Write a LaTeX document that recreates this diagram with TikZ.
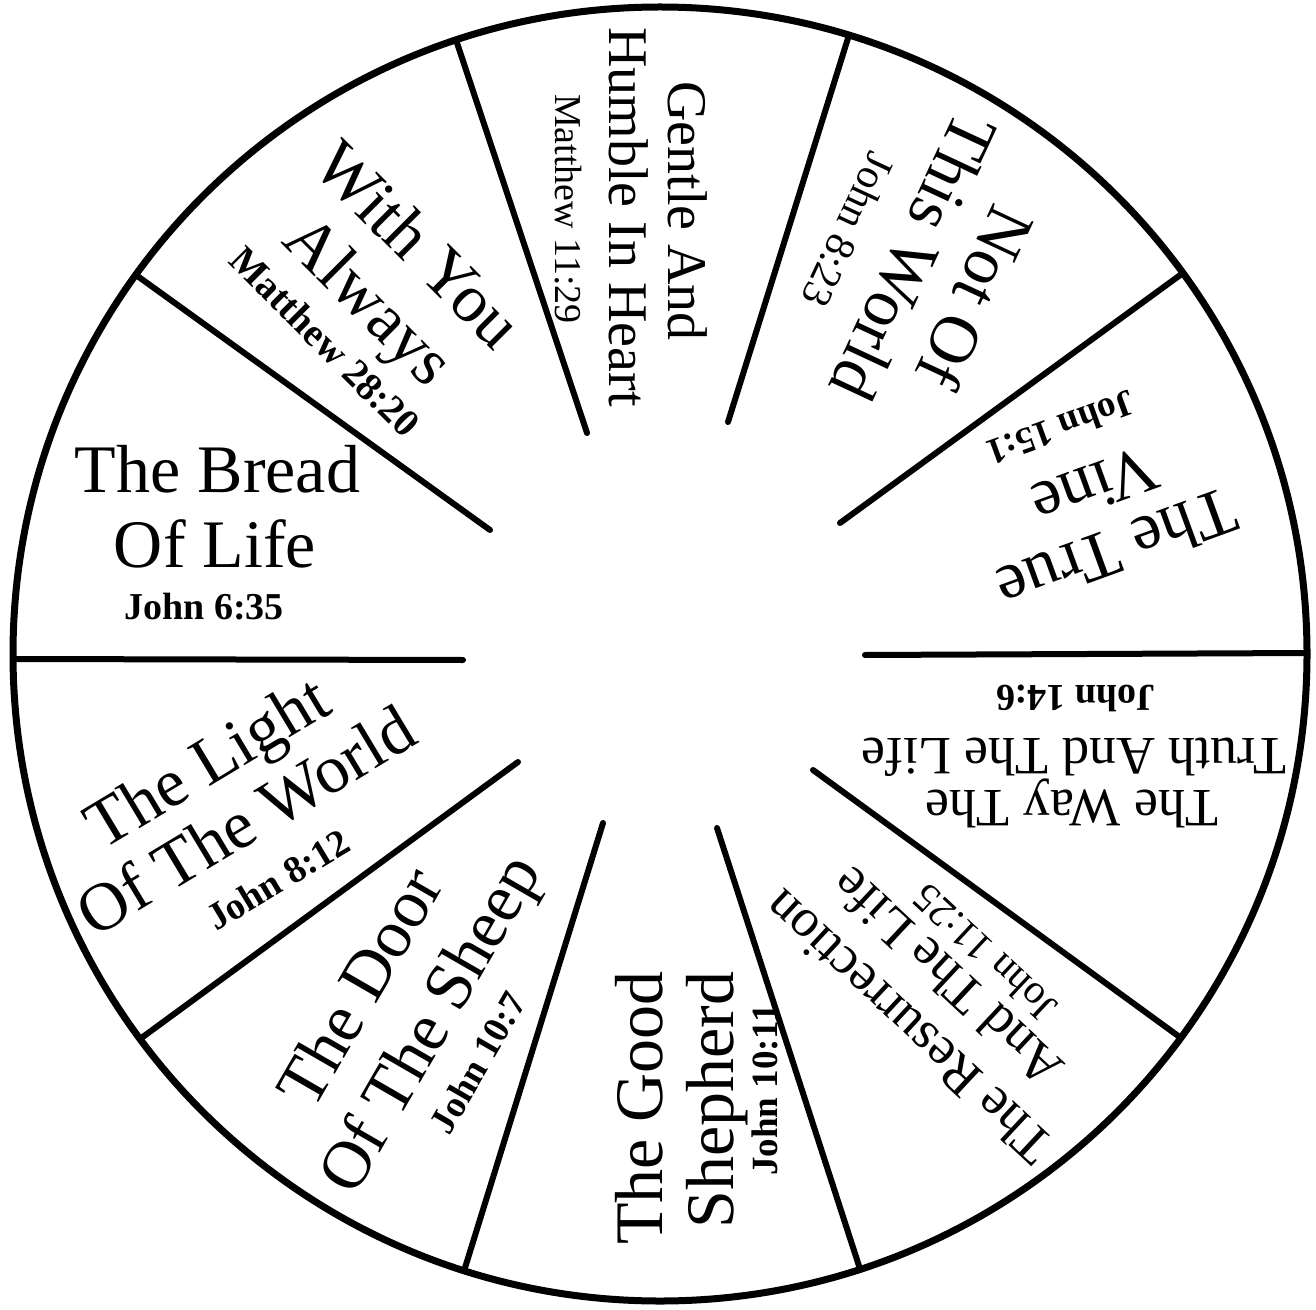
\documentclass[tikz,border=0pt]{standalone}
\usepackage{fontspec}
\setmainfont{Liberation Serif}
\newcommand\cs{\rule[-0.29em]{0pt}{1.24em}}
\tikzset{
  lbl/.style={inner sep=0pt, anchor=center},
  ttl/.style={lbl, font=\fontsize{#1}{#1}\selectfont},
  refb/.style={lbl, font=\fontsize{#1}{#1}\selectfont\bfseries},
  refr/.style={lbl, font=\fontsize{#1}{#1}\selectfont},
  rim/.style={line width=3.5pt},
  spoke/.style={line width=3pt, line cap=round},
}
\begin{document}
\begin{tikzpicture}[x=0.5pt,y=0.5pt]
\path[use as bounding box, fill=white] (0,0) rectangle (1316,-1310);
\coordinate (c) at (660,-654);
\draw[rim] (c) circle[radius=323.5pt];
% spokes
\coordinate (i1) at (463,-660);  \coordinate (o1) at (13,-659);
\coordinate (i2) at (490,-530);  \coordinate (o2) at (136,-275);
\coordinate (i3) at (587,-433);  \coordinate (o3) at (456,-40);
\coordinate (i4) at (728,-422);  \coordinate (o4) at (849,-35);
\coordinate (i5) at (840,-523);  \coordinate (o5) at (1183,-273);
\coordinate (i6) at (865,-655);  \coordinate (o6) at (1307,-653);
\coordinate (i7) at (813,-770);  \coordinate (o7) at (1181,-1038);
\coordinate (i8) at (717,-828);  \coordinate (o8) at (860,-1269);
\coordinate (i9) at (603,-823);  \coordinate (o9) at (464,-1271);
\coordinate (i10) at (518,-762); \coordinate (o10) at (140,-1039);
\foreach \k in {1,...,10} \draw[spoke] (i\k) -- (o\k);
% The Bread Of Life
\node[ttl=34] (b1) at (217.5,-470.5) {\cs The Bread};
\node[ttl=34] (b2) at (215,-545) {\cs Of Life};
\node[refb=19] (b3) at (204,-607) {\cs John 6:35};
% With You Always
\node[ttl=34, rotate=-45] (w1) at (418,-245) {\cs With You};
\node[ttl=34, rotate=-45] (w2) at (370,-300) {\cs Always};
\node[refb=19.5, rotate=-45] (w3) at (325,-342) {\cs Matthew 28:20};
% Gentle And Humble In Heart
\node[ttl=28, rotate=-90] (g1) at (687,-211) {\cs Gentle And};
\node[ttl=28, rotate=-90] (g2) at (628,-217) {\cs Humble In Heart};
\node[refr=19, rotate=-90] (g3) at (568,-209) {\cs Matthew 11:29};
% Not Of This World
\node[ttl=34, rotate=-115] (n1) at (975,-297) {\cs Not Of};
\node[ttl=34, rotate=-115] (n2) at (913,-257) {\cs This World};
\node[refr=21, rotate=-115] (n3) at (848,-230) {\cs John 8:23};
% The True Vine
\node[ttl=34, rotate=200] (v1) at (1117,-550) {\cs The True};
\node[ttl=34, rotate=200] (v2) at (1095,-487) {\cs Vine};
\node[refb=18.5, rotate=200] (v3) at (1061,-428) {\cs John 15:1};
% The Way The Truth And The Life
\node[ttl=27, rotate=180] (y1) at (1072,-808) {\cs The Way The};
\node[ttl=27, rotate=180] (y2) at (1074,-756) {\cs Truth And The Life};
\node[refb=19, rotate=180] (y3) at (1076,-698) {\cs John 14:6};
% The Resurrection And The Life
\node[ttl=27, rotate=137] (r1) at (908,-1027) {\cs The Resurrection};
\node[ttl=27, rotate=137] (r2) at (947,-977) {\cs And The Life};
\node[refr=20.5, rotate=137] (r3) at (985,-953) {\cs John 11:25};
% The Good Shepherd
\node[ttl=34, rotate=90] (h1) at (640,-1108) {\cs The Good};
\node[ttl=34, rotate=90] (h2) at (711,-1100) {\cs Shepherd};
\node[refb=18.5, rotate=90] (h3) at (765,-1090) {\cs John 10:11};
% The Door Of The Sheep
\node[ttl=34, rotate=60] (d1) at (360,-987) {\cs The Door};
\node[ttl=34, rotate=60] (d2) at (429,-1023) {\cs Of The Sheep};
\node[refb=18.5, rotate=60] (d3) at (478,-1063) {\cs John 10:7};
% The Light Of The World
\node[ttl=34, rotate=31] (l1) at (207,-762) {\cs The Light};
\node[ttl=34, rotate=31] (l2) at (246,-821) {\cs Of The World};
\node[refb=19, rotate=31] (l3) at (278,-880) {\cs John 8:12};
\end{tikzpicture}
\end{document}
